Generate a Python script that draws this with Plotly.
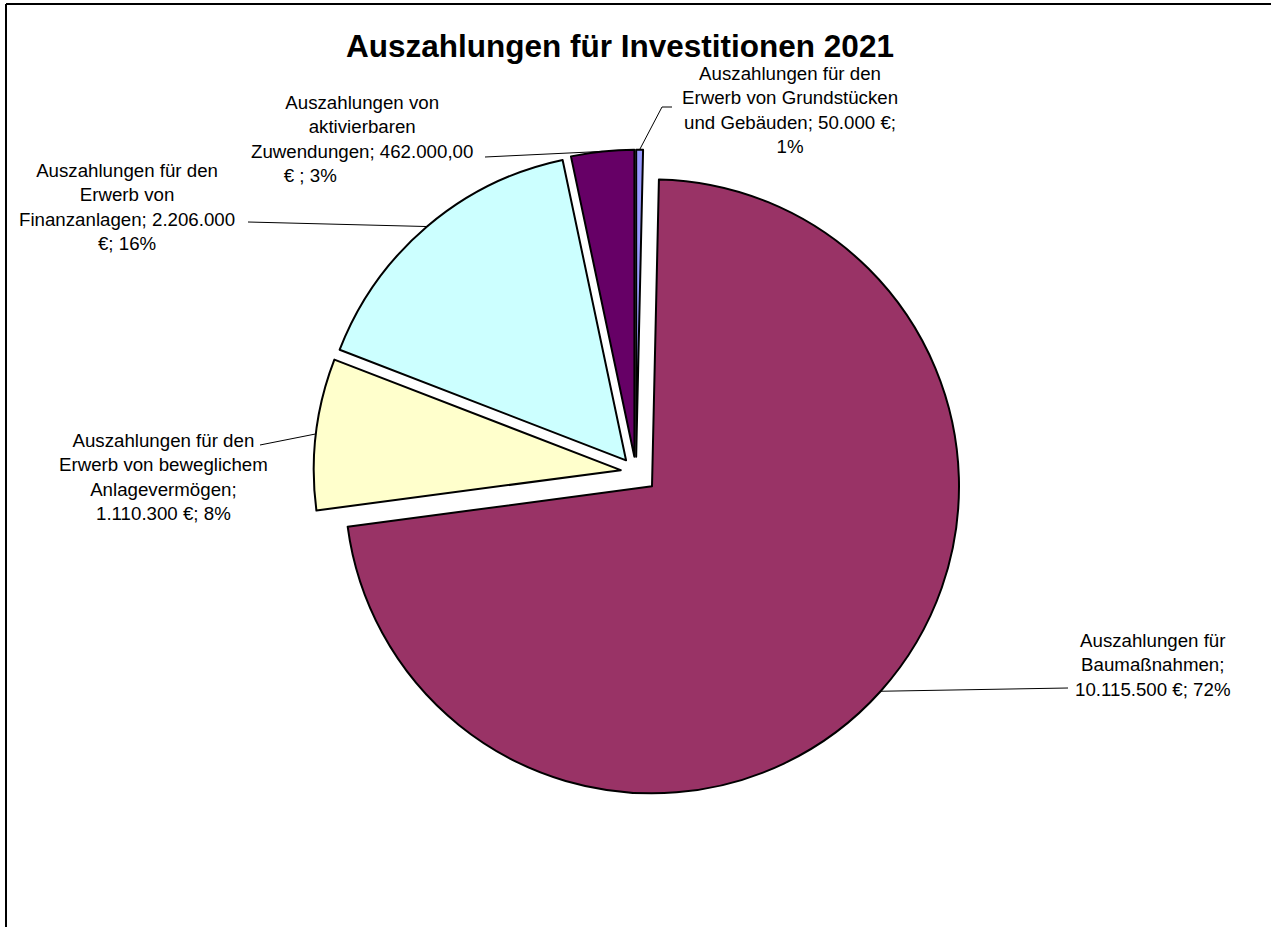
import math
import plotly.graph_objects as go

# ---- data ----
categories = [
    "Auszahlungen für den Erwerb von Grundstücken und Gebäuden",
    "Auszahlungen für Baumaßnahmen",
    "Auszahlungen für den Erwerb von beweglichem Anlagevermögen",
    "Auszahlungen für den Erwerb von Finanzanlagen",
    "Auszahlungen von aktivierbaren Zuwendungen",
]
values = [50000, 10115500, 1110300, 2206000, 462000]
label_texts = [
    "Auszahlungen für den<br>Erwerb von Grundstücken<br>und Gebäuden; 50.000 €;<br>1%",
    "Auszahlungen für<br>Baumaßnahmen;<br>10.115.500 €; 72%",
    "Auszahlungen für den<br>Erwerb von beweglichem<br>Anlagevermögen;<br>1.110.300 €; 8%",
    "Auszahlungen für den<br>Erwerb von<br>Finanzanlagen; 2.206.000<br>€; 16%",
    "Auszahlungen von<br>aktivierbaren<br>Zuwendungen; 462.000,00<br>€ ; 3%" + "&nbsp;" * 20,
]
colors = ["#9999FF", "#993366", "#FFFFCC", "#CCFFFF", "#660066"]
pulls = [0.05, 0.07, 0.05, 0.05, 0.05]
title = "Auszahlungen für Investitionen 2021"

# ---- layout geometry (pixels) ----
W, H = 1271, 927
CX, CY, R = 636, 472, 307
maxpull = max(pulls)
half = R * (1 + maxpull)
dom_x = [(CX - half) / W, (CX + half) / W]
dom_y = [1 - (CY + half) / H, 1 - (CY - half) / H]

# label centers and leader-line elbow points (pixels)
label_pos = [(790, 110), (1153, 665), (163, 477), (127, 207), (362, 139)]
leader_via = [[(672, 107), (662, 107)], [(1068, 688)], [(260, 445)], [(248, 222)], [(485, 157)]]

def px(x):
    return x / W

def py(y):
    return 1 - y / H

fig = go.Figure(go.Pie(
    labels=categories, values=values, sort=False, direction="clockwise", rotation=0,
    pull=pulls, textinfo="none", hoverinfo="label+value+percent",
    marker=dict(colors=colors, line=dict(color="black", width=2)),
    domain=dict(x=dom_x, y=dom_y), showlegend=False,
))

shapes = []
annotations = []
total = sum(values)
cum = 0
for i, v in enumerate(values):
    mid = (cum + v / 2) / total * 2 * math.pi
    cum += v
    dx, dy = math.sin(mid), -math.cos(mid)
    ax = CX + pulls[i] * R * dx
    ay = CY + pulls[i] * R * dy
    ex, ey = ax + R * dx, ay + R * dy
    pts = leader_via[i] + [(ex, ey)]
    path = "M {} {}".format(px(pts[0][0]), py(pts[0][1]))
    for (x, y) in pts[1:]:
        path += " L {} {}".format(px(x), py(y))
    shapes.append(dict(type="path", xref="paper", yref="paper", path=path,
                       line=dict(color="black", width=1)))
    lx, ly = label_pos[i]
    annotations.append(dict(x=px(lx), y=py(ly), xref="paper", yref="paper",
                            text=label_texts[i], showarrow=False, xanchor="center",
                            yanchor="middle", align="center",
                            font=dict(family="Liberation Sans, Arial", size=18.7, color="black")))

# chart frame
shapes.append(dict(type="line", xref="paper", yref="paper", x0=px(6), x1=px(W + 5), y0=py(4), y1=py(4),
                   line=dict(color="black", width=2)))
shapes.append(dict(type="line", xref="paper", yref="paper", x0=px(6), x1=px(6), y0=py(4), y1=py(H + 5),
                   line=dict(color="black", width=2)))

fig.update_layout(
    width=W, height=H, margin=dict(l=0, r=0, t=0, b=0),
    paper_bgcolor="white", plot_bgcolor="white",
    title=dict(text="<b>" + title + "</b>", x=px(620), y=py(46), xanchor="center", yanchor="middle",
               font=dict(family="Liberation Sans, Arial", size=31.5, color="black")),
    shapes=shapes, annotations=annotations,
)

fig.write_html("out.html", config={"displayModeBar": False},
               post_script="document.body.style.margin='0';document.body.style.overflow='hidden';")
